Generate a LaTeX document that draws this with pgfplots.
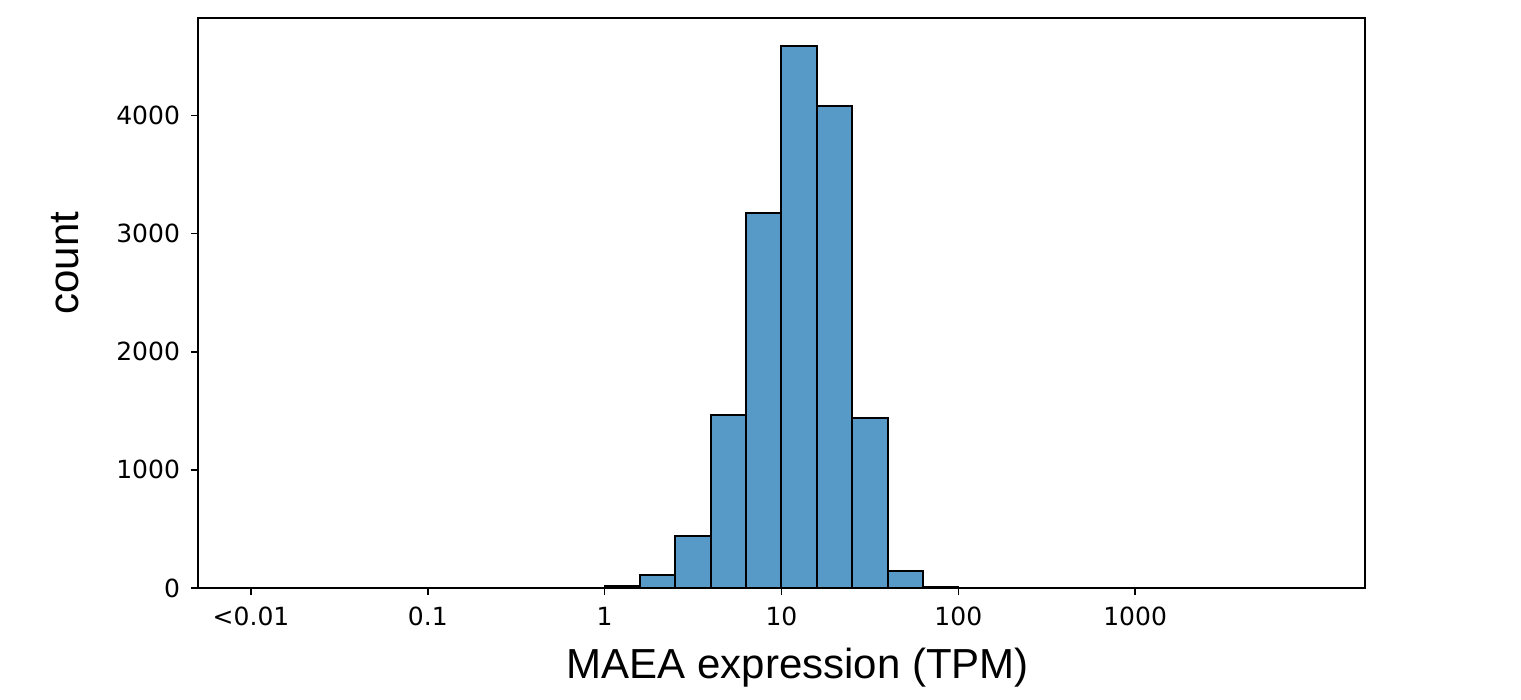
\documentclass[border=0pt]{standalone}
\usepackage{pgfplots}
\pgfplotsset{compat=1.18}
\usepackage{fontspec}
\setmainfont{DejaVu Sans}
\newfontfamily\labelfont{Liberation Sans}
\definecolor{barblue}{RGB}{87,153,199}
\begin{document}
\begin{tikzpicture}
\begin{axis}[
  scale only axis,
  width=583.5pt, height=285pt,
  xmin=-2.3, xmax=4.3,
  ymin=0, ymax=4825,
  axis line style={line width=0.8pt, black},
  tick align=outside,
  xtick pos=bottom, ytick pos=left,
  major tick length=3.5pt,
  tick style={line width=0.8pt, black},
  xtick={-2,-1,0,1,2,3},
  xticklabels={<0.01,0.1,1,10,100,1000},
  ytick={0,1000,2000,3000,4000},
  /pgf/number format/assume math mode=true,
  /pgf/number format/1000 sep={},
  tick label style={font=\fontsize{12.5}{15}\selectfont},
  xticklabel style={yshift=-2.5pt},
  yticklabel style={xshift=-2pt},
  xlabel={MAEA expression (TPM)},
  ylabel={count},
  label style={font=\labelfont\fontsize{21}{25}\selectfont},
  xlabel style={at={(axis description cs:0.514,-0.158)}, anchor=base},
  ylabel style={at={(axis description cs:-0.1025,0.57)}, anchor=base, rotate=0},
]
\addplot[ybar interval, fill=barblue, draw=black, line width=1pt] coordinates {
(-2.0,0) (-1.8,0) (-1.6,0) (-1.4,0) (-1.2,0) (-1.0,0) (-0.8,0) (-0.6,0)
(-0.4,1) (-0.2,3) (0.0,15) (0.2,110) (0.4,437) (0.6,1462) (0.8,3171)
(1.0,4591) (1.2,4078) (1.4,1442) (1.6,148) (1.8,6) (2.0,0) (2.2,0)
(2.4,0) (2.6,0) (2.8,0) (3.0,0) (3.2,0) (3.4,0) (3.6,0) (3.8,0) (4.0,0)
};
\end{axis}
\pgfresetboundingbox
\path[use as bounding box] (-99pt,-56pt) rectangle (661.5pt,294pt);
\end{tikzpicture}
\end{document}
